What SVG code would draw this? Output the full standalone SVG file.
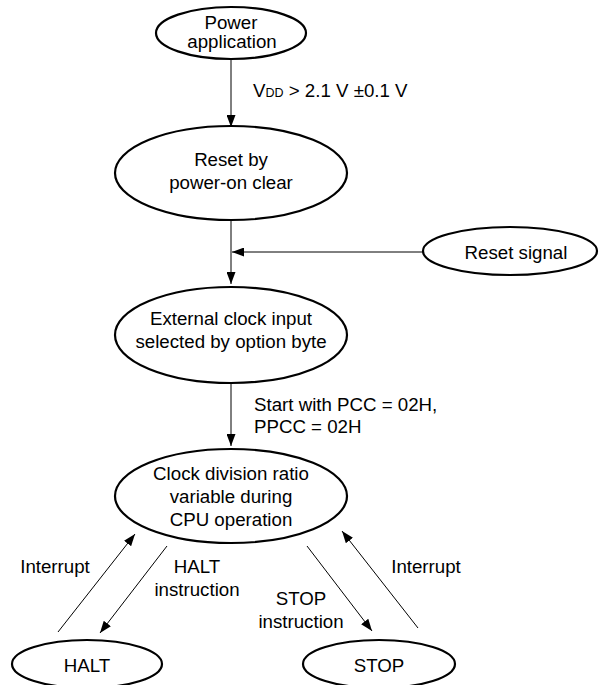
<svg xmlns="http://www.w3.org/2000/svg" width="600" height="685" viewBox="0 0 600 685">
<style>
.node{fill:#fff;stroke:#000;stroke-width:2.2}
.conn{fill:none;stroke:#000;stroke-width:1}
text{font-family:"Liberation Sans",Arial,sans-serif;font-size:18.7px;fill:#000}
.c{text-anchor:middle}
</style>
<defs>
<marker id="ah" markerWidth="13" markerHeight="9" refX="12" refY="4.5" orient="auto" markerUnits="userSpaceOnUse">
<path d="M0,0 L12,4.5 L0,9 Z" fill="#000"/>
</marker>
</defs>
<rect width="600" height="685" fill="#fff"/>
<g id="connectors">
<line class="conn" x1="231" y1="59" x2="231" y2="127" marker-end="url(#ah)"/>
<line class="conn" x1="231" y1="220" x2="231" y2="284" marker-end="url(#ah)"/>
<line class="conn" x1="423" y1="252" x2="232" y2="252" marker-end="url(#ah)"/>
<line class="conn" x1="231" y1="383" x2="231" y2="446" marker-end="url(#ah)"/>
<line class="conn" x1="58" y1="632" x2="135" y2="534" marker-end="url(#ah)"/>
<line class="conn" x1="167" y1="546" x2="100" y2="633" marker-end="url(#ah)"/>
<line class="conn" x1="307" y1="546" x2="372" y2="631" marker-end="url(#ah)"/>
<line class="conn" x1="418" y1="628" x2="342" y2="531" marker-end="url(#ah)"/>
<text x="253" y="97">V<tspan font-size="12.5">DD</tspan> &gt; 2.1 V ±0.1 V</text>
<text x="254" y="411">Start with PCC = 02H,</text>
<text x="254" y="433">PPCC = 02H</text>
<text class="c" x="55" y="573">Interrupt</text>
<text class="c" x="197" y="573">HALT</text>
<text class="c" x="197" y="596">instruction</text>
<text class="c" x="301" y="605">STOP</text>
<text class="c" x="301" y="628">instruction</text>
<text class="c" x="426" y="573">Interrupt</text>
</g>
<g id="power">
<ellipse class="node" cx="231" cy="33" rx="75" ry="26"/>
<text class="c" x="231" y="29" font-size="17.5">Power</text>
<text class="c" x="232" y="48" font-size="17.5">application</text>
</g>
<g id="reset-poc">
<ellipse class="node" cx="231" cy="173" rx="116" ry="47"/>
<text class="c" x="231" y="166">Reset by</text>
<text class="c" x="231" y="189">power-on clear</text>
</g>
<g id="reset-signal">
<ellipse class="node" cx="510" cy="251" rx="87" ry="24"/>
<text class="c" x="516" y="259">Reset signal</text>
</g>
<g id="ext-clock">
<ellipse class="node" cx="231" cy="335" rx="116" ry="48"/>
<text class="c" x="231" y="325">External clock input</text>
<text class="c" x="231" y="348">selected by option byte</text>
</g>
<g id="clock-div">
<ellipse class="node" cx="231" cy="496" rx="116" ry="47"/>
<text class="c" x="231" y="480">Clock division ratio</text>
<text class="c" x="231" y="503">variable during</text>
<text class="c" x="231" y="526">CPU operation</text>
</g>
<g id="halt">
<ellipse class="node" cx="87" cy="664" rx="75" ry="24"/>
<text class="c" x="87" y="672">HALT</text>
</g>
<g id="stop">
<ellipse class="node" cx="379" cy="664" rx="76" ry="24"/>
<text class="c" x="379" y="672">STOP</text>
</g>
</svg>
